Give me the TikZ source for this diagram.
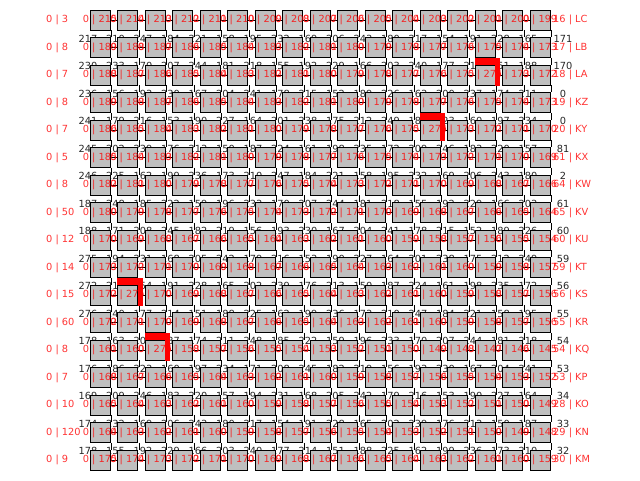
\documentclass[tikz,border=0pt]{standalone}
\usepackage{fontspec}
\setmainfont{DejaVu Sans}
\definecolor{boxgray}{HTML}{BFBFBF}
\definecolor{txtred}{HTML}{FF0000}
\definecolor{numgray}{HTML}{262626}
\begin{document}
\begin{tikzpicture}[x=1pt,y=-1pt,font=\fontsize{9.8}{11}\selectfont,
  cell/.style={draw=black,fill=boxgray,minimum size=20pt,inner sep=0pt,line width=0.8pt},
  redtxt/.style={text=txtred,text opacity=0.8,inner sep=0pt},
  blacknum/.style={text=numgray,inner sep=0pt},
  link/.style={draw=black,line width=0.8pt},
  markbar/.style={fill=red}]
\useasboundingbox (0,0) rectangle (640,480);
% black numbers (under the boxes)
\foreach \nm/\ln/\rn/\base/\lb/\rb [count=\r from 0] in {
LC/3/16/215/0/0, LB/8/17/189/217/171, LA/7/18/188/230/170, KZ/8/19/189/236/0,
KY/7/20/186/241/0, KX/5/61/185/245/81, KW/8/64/182/246/2, KV/50/65/180/187/61,
KU/12/60/170/188/60, KT/14/59/173/275/59, KS/15/56/172/272/56, KR/60/55/172/276/55,
KQ/8/54/161/178/54, KP/7/53/168/176/53, KO/10/28/165/169/34, KN/120/29/164/174/33,
KM/9/30/175/178/32}{
  \ifnum\r>0
    \foreach \c in {0,...,16}{
      \pgfmathsetmacro\xx{100+27.5*\c}
      \pgfmathsetmacro\yy{20+27.5*\r}
      \ifnum\c=0
        \node[blacknum] (t-\r-\c) at (\xx-12,\yy-9) {\lb};
      \else
        \pgfmathtruncatemacro\bn{150+mod(37*\c+23*\r,100)}
        \node[blacknum] (t-\r-\c) at (\xx-12,\yy-9) {\bn};
      \fi
    }
    \pgfmathsetmacro\yy{20+27.5*\r}
    \node[blacknum] (RB-\r) at (563,\yy-9) {\rb};
  \fi
}
% boxes
\foreach \r in {0,...,16}{
  \foreach \c in {0,...,16}{
    \pgfmathsetmacro\xx{100+27.5*\c}
    \pgfmathsetmacro\yy{20+27.5*\r}
    \node[cell] (b-\r-\c) at (\xx,\yy) {};
  }
}
% connectors
\foreach \r in {0,...,16}{
  \foreach \c [evaluate=\c as \cn using int(\c+1)] in {0,...,15}{
    \draw[link] (b-\r-\c.east) -- (b-\r-\cn.west);
  }
}
\foreach \r [evaluate=\r as \rn using int(\r+1)] in {0,...,15}{
  \foreach \c in {0,...,16}{
    \draw[link] ([xshift=1pt]b-\r-\c.south east) -- ([xshift=1pt]b-\rn-\c.north east);
  }
}
% red marks
\foreach \r/\c in {2/14,4/12,10/1,12/2}{
  \fill[markbar] ([yshift=6.5pt]b-\r-\c.north west) rectangle ([xshift=5pt]b-\r-\c.north east);
  \fill[markbar] ([yshift=6.5pt]b-\r-\c.north east) rectangle ([xshift=5pt,yshift=-1pt]b-\r-\c.south east);
}
% red texts
\foreach \nm/\ln/\rn/\base [count=\r from 0] in {
LC/3/16/215, LB/8/17/189, LA/7/18/188, KZ/8/19/189,
KY/7/20/186, KX/5/61/185, KW/8/64/182, KV/50/65/180,
KU/12/60/170, KT/14/59/173, KS/15/56/172, KR/60/55/172,
KQ/8/54/161, KP/7/53/168, KO/10/28/165, KN/120/29/164,
KM/9/30/175}{
  \pgfmathsetmacro\yy{20+27.5*\r}
  \node[redtxt,anchor=west] (L-\r) at (46,\yy) {0 | \ln};
  \node[redtxt,anchor=west] (R-\r) at (553,\yy) {\rn\ | \nm};
  \foreach \c in {0,...,16}{
    \pgfmathsetmacro\xx{100+27.5*\c}
    \pgfmathtruncatemacro\ismark{(\r==2 && \c==14) || (\r==4 && \c==12) || (\r==10 && \c==1) || (\r==12 && \c==2)}
    \ifnum\ismark=1
      \node[redtxt] (l-\r-\c) at (\xx,\yy) {0 | 275};
    \else
      \pgfmathtruncatemacro\rv{\base-\c}
      \node[redtxt] (l-\r-\c) at (\xx,\yy) {0 | \rv};
    \fi
  }
}
\end{tikzpicture}
\end{document}
